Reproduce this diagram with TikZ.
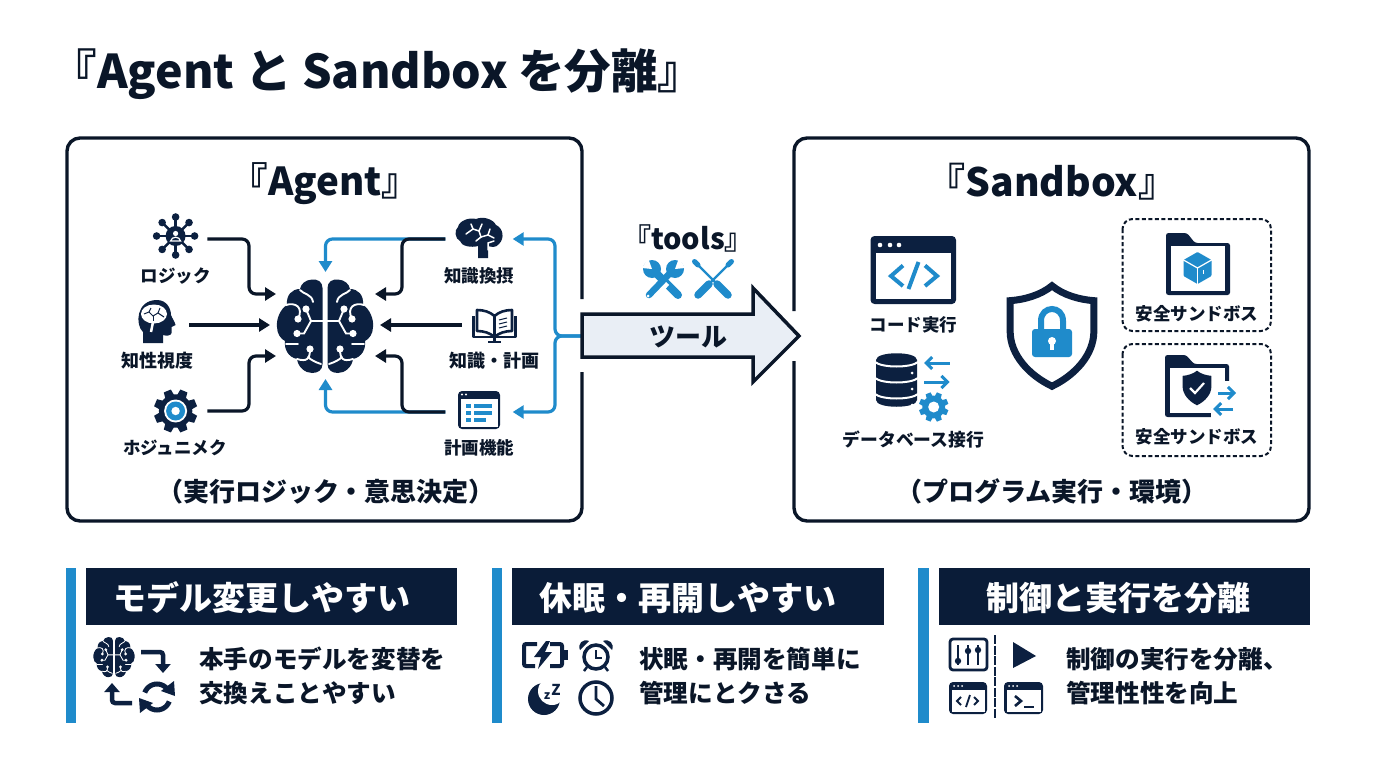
\documentclass[tikz,border=0pt]{standalone}
\usepackage{fontspec}
\setmainfont{Noto Sans CJK JP}
\usetikzlibrary{arrows.meta,calc}
\definecolor{ink}{HTML}{0A1628}
\definecolor{navy}{HTML}{0C2040}
\definecolor{hdr}{HTML}{0A1C38}
\definecolor{azure}{HTML}{1F8BCB}
\definecolor{pale}{HTML}{E9EEF5}
\tikzset{
 txt/.style={font=\bfseries\fontsize{#1}{#1}\selectfont,text=ink,inner sep=0pt,text height=#1*0.90pt,text depth=#1*0.10pt},
 whtxt/.style={txt=#1,text=white},
 port/.style 2 args={inner sep=0pt,minimum width=#1pt,minimum height=#2pt},
 dkc/.style={draw=ink,line width=3.2pt,rounded corners=7pt,-{Triangle[length=11pt,width=13pt]}},
 blc/.style={draw=azure,line width=3.2pt,rounded corners=7pt,-{Triangle[length=11pt,width=13pt]}},
 frame/.style={draw=ink,line width=3.4pt,rounded corners=13pt},
 dashbox/.style={draw=ink,line width=2pt,rounded corners=10pt,dash pattern=on 4pt off 2.5pt},
 wline/.style={draw=white,line cap=round},
 barb/.style={draw=azure,line width=3pt,-{Straight Barb[length=6pt,width=12pt]}},
 turn/.style={draw=navy,line width=4.5pt,rounded corners=3pt,-{Triangle[length=9pt,width=15pt]}},
}
% one half of the brain
\newcommand\hemi[1]{%
 \fill[navy] (2.5,-38) .. controls (2.5,-44) and (7,-47) .. (13,-46.5)
   .. controls (20,-46) and (24,-42) .. (25,-37)
   .. controls (33,-37) and (39,-31) .. (38,-21)
   .. controls (45,-17) and (49,-6) .. (48,1)
   .. controls (48,8) and (44,13) .. (40,15)
   .. controls (41,23) and (37,31) .. (28,33)
   .. controls (27,41) and (20,47) .. (13,47)
   .. controls (7,47) and (2.5,44) .. (2.5,38) -- cycle;
 \begin{scope}[line width=#1*1.9pt]
 \draw[wline] (2,-5) -- (14,-5) -- (19,-17);
 \draw[wline] (14,-5) -- (21,7.5) -- (28,7.5);
 \draw[wline] (25,-36) .. controls (22,-32) and (13,-32) .. (12,-24);
 \draw[wline] (39,-21) .. controls (30,-24) and (21,-19) .. (27,-7);
 \draw[wline] (27,18) -- (39,18);
 \draw[wline] (15,23) .. controls (15,33) and (18,36) .. (28,33);
 \draw[wline] (4,38) .. controls (10,36) and (14,34) .. (17,31);
 \end{scope}
 \fill[white] (19,-17) circle[radius=3.6];
 \fill[white] (28,7.5) circle[radius=3.6];
 \fill[white] (27,-7) circle[radius=3.6];
 \fill[white] (15,23) circle[radius=3.6];
}
\newcommand\brainico[3]{%
 \begin{scope}[shift={(#1,#2)},scale=#3]
 \hemi{#3}
 \begin{scope}[xscale=-1]\hemi{#3}\end{scope}
 \end{scope}}
\newcommand\gearico[5]{%
 \begin{scope}[shift={(#1,#2)}]
 \fill[#5] (0,0) circle[radius=#3*0.76];
 \pgfmathsetmacro\gstepv{360/#4}
 \foreach \k in {1,...,#4}{%
  \pgfmathsetmacro\gang{(\k-0.5)*\gstepv}
  \fill[#5] ({\gang-10}:#3) -- ({\gang+10}:#3) -- ({\gang+18}:#3*0.7) -- ({\gang-18}:#3*0.7) -- cycle;}
 \end{scope}}
\newcommand\shieldpath{(0,-54) .. controls (-12,-44) and (-30,-39) .. (-45,-38) -- (-45,-5) .. controls (-45,20) and (-25,42) .. (0,54) .. controls (25,42) and (45,20) .. (45,-5) -- (45,-38) .. controls (30,-39) and (12,-44) .. (0,-54) -- cycle}
% window: x1 y1 x2 y2 bar border
\newcommand\winico[6]{%
 \fill[navy,rounded corners=4pt] (#1,#2) rectangle (#3,#4);
 \fill[white] (#1+#6,#2+#5) rectangle (#3-#6,#4-#6);
}
\begin{document}
\begin{tikzpicture}[x=1pt,y=-1pt]
\useasboundingbox (0,0) rectangle (1376,768);
\fill[white] (0,0) rectangle (1376,768);

% ---------- title
\node[txt=46.5] (title) at (377.5,69.5) {『Agent と Sandbox を分離』};

% ---------- frames
\draw[frame] (582,299) -- (582,138) -- (67,138) -- (67,521) -- (582,521) -- (582,372);
\draw[frame] (794,311) -- (794,138) -- (1309,138) -- (1309,521) -- (794,521) -- (794,361);
\node[txt=38.5] (agentT) at (325,180.5) {『Agent』};
\node[txt=39] (sandT) at (1052,180.5) {『Sandbox』};
\node[txt=26] (agentS) at (326,491) {（実行ロジック・意思決定）};
\node[txt=26] (sandS) at (1052,491) {（プログラム実行・環境）};

% ---------- ports of the agent graph
\node[port={63}{50}] (logicI) at (175.6,239) {};
\node[port={66}{44}] (headI) at (156,325) {};
\node[port={63}{46}] (gearI) at (175.6,411) {};
\node[port={67}{44}] (kbI) at (479,239) {};
\node[port={65}{40}] (bookI) at (494.5,325) {};
\node[port={67}{40}] (planI) at (479,412) {};
\node[port={94}{94}] (brainI) at (325,326) {};
\coordinate (inLT) at (276,294);
\coordinate (inLM) at (270,325);
\coordinate (inLB) at (276,356);
\coordinate (inRT) at (375,294);
\coordinate (inRM) at (380,325);
\coordinate (inRB) at (375,356);
\coordinate (inTop) at (325.5,272);
\coordinate (inBot) at (325.5,379);
\coordinate (arrowTail) at (582,336);

% ---------- connectors
\draw[blc] (kbI.west) -- (325.5,239) -- (inTop);
\draw[blc] (planI.west) -- (325.5,412) -- (inBot);
\draw[dkc] (logicI.east) -- (249,239) -- (249,294) -- (inLT);
\draw[dkc] (headI.east) -- (inLM);
\draw[dkc] (gearI.east) -- (249,411) -- (249,356) -- (inLB);
\draw[dkc] (kbI.west) -- (402,239) -- (402,294) -- (inRT);
\draw[dkc] (bookI.west) -- (inRM);
\draw[dkc] (planI.west) -- (402,412) -- (402,356) -- (inRB);
\draw[blc] (arrowTail) -- (555,336) -- (555,239) -- (kbI.east);
\draw[blc] (arrowTail) -- (555,336) -- (555,412) -- (planI.east);

% ---------- central brain
\brainico{325}{326}{1}

% ---------- logic network icon
\begin{scope}[shift={(175.6,236)}]
 \foreach \a in {0,45,...,315}{\draw[navy,line width=2.4pt] (0,0) -- (\a:19);
  \fill[navy] (\a:19) circle[radius=3.8];}
 \fill[navy] (0,0) circle[radius=10];
 \fill[white] (0,-2.5) circle[radius=2.6];
 \draw[white,line width=1.2pt] (-5,5) .. controls (-4,0) and (4,0) .. (5,5) -- cycle;
\end{scope}
\node[txt=17.5] (lLogic) at (175.6,275) {ロジック};

% ---------- head icon
\begin{scope}[shift={(156,322)}]
 \fill[navy] (-13,21) -- (-13,10) .. controls (-21,3) and (-20,-22) .. (1,-22)
   .. controls (11,-22) and (15,-13) .. (15,-7) .. controls (16,-4) and (19,0) .. (19.5,3)
   -- (15.5,5) -- (15.5,11) .. controls (15,14) and (10,14) .. (7,13) -- (7,21) -- cycle;
 \fill[white] (-2,-8) ellipse[x radius=13,y radius=9.5];
 \draw[white,line width=2.5pt] (-3,0) -- (-5,10);
 \draw[navy,line width=1pt] (-12,-8) -- (-7,-10) -- (-3,-6) -- (2,-9) -- (8,-5);
 \draw[navy,line width=1pt] (-7,-10) -- (-5,-14);
 \draw[navy,line width=1pt] (2,-9) -- (4,-14);
 \draw[navy,line width=1pt] (-3,-6) -- (-3,-1);
\end{scope}
\node[txt=18] (lHead) at (157,360) {知性視度};

% ---------- gear icon
\gearico{175.6}{411}{22}{8}{navy}
\fill[white] (175.6,411) circle[radius=11.5];
\fill[azure] (175.6,411) circle[radius=9.5];
\fill[white] (175.6,411) circle[radius=4.2];
\node[txt=17.5] (lGear) at (175,447) {ホジュニメク};

% ---------- knowledge brain (side view)
\begin{scope}[shift={(479,238)}]
 \fill[navy] (-1,20) -- (-1,8) .. controls (-8,10) and (-18,8) .. (-19,3)
  .. controls (-24,1) and (-25,-8) .. (-21,-11) .. controls (-20,-17) and (-10,-21) .. (-3,-19)
  .. controls (4,-22) and (14,-19) .. (17,-13) .. controls (24,-10) and (26,0) .. (20,6)
  .. controls (17,10) and (12,9) .. (9,8) -- (9,20) -- cycle;
 \begin{scope}[line width=1.5pt]
 \draw[wline] (-13,-4) -- (-6,-9) -- (0,-7) -- (3,-14);
 \draw[wline] (0,-7) -- (2,-1) -- (-3,3);
 \draw[wline] (2,-1) -- (9,-3) -- (11,-9);
 \draw[wline] (9,-3) -- (15,0);
 \draw[wline] (9,12) -- (9,5) -- (15,3);
 \draw[wline] (-6,-9) -- (-8,-14);
 \end{scope}
\end{scope}
\node[txt=17.5] (lKb) at (479,275) {知識換摂};

% ---------- book icon
\begin{scope}[line width=2.6pt,line join=round]
 \draw[navy] (477,310) -- (477,331) .. controls (484,331) and (490,333) .. (494.5,337)
   .. controls (499,333) and (505,331) .. (512,331) -- (512,310)
   .. controls (505,310) and (499,312) .. (494.5,316) .. controls (490,312) and (484,310) .. (477,310) -- cycle;
 \draw[navy] (494.5,316) -- (494.5,337);
 \draw[navy] (473.5,316) -- (473.5,337) -- (515.5,337) -- (515.5,316);
 \draw[navy] (488,342) -- (501,342);
 \draw[navy] (494.5,337) -- (494.5,342);
 \draw[navy,line width=1pt] (499,320) -- (507,318);
 \draw[navy,line width=1pt] (499,324) -- (507,322);
 \draw[navy,line width=1pt] (499,328) -- (507,326);
\end{scope}
\node[txt=18] (lBook) at (494.5,360) {知識・計画};

% ---------- plan window icon
\winico{458}{391}{500}{429}{8}{2.5}
\fill[white] (462,394.5) circle[radius=1.2];
\fill[white] (466,394.5) circle[radius=1.2];
\fill[azure] (466,404) rectangle (471,408);
\fill[azure] (466,411) rectangle (471,415);
\fill[azure] (466,418) rectangle (471,422);
\fill[azure] (474,404) rectangle (492,408);
\fill[azure] (474,411) rectangle (492,415);
\fill[azure] (474,418) rectangle (486,422);
\node[txt=17.5] (lPlan) at (479,447) {計画機能};

% ---------- tools
\node[txt=29] (toolsT) at (688,238) {『tools』};
\begin{scope}
 \draw[azure,line width=8pt,line cap=round] (655,272) -- (678,295);
 \fill[azure] (652,269) circle[radius=9];
 \fill[white] (652,269) -- (642,268) -- (648,258) -- cycle;
 \draw[white,line width=8.5pt] (666,282) -- (656,293);
 \draw[azure,line width=6.5pt,line cap=round] (672,271) -- (649,295);
 \fill[azure] (675,269) circle[radius=9];
 \fill[white] (675,269) -- (685,268) -- (679,258) -- cycle;
 \fill[white] (648,296) circle[radius=1.5];
 \draw[azure,line width=2.4pt] (730,263) -- (711,282);
 \draw[azure,line width=5pt,line cap=round] (731.5,261.5) -- (728,265);
 \draw[azure,line width=7.5pt,line cap=round] (709,284) -- (698,295);
 \draw[azure,line width=2.4pt] (696,263) -- (715,282);
 \draw[azure,line width=5pt,line cap=round] (694.5,261.5) -- (698,265);
 \draw[azure,line width=7.5pt,line cap=round] (717,284) -- (728,295);
\end{scope}

% ---------- big arrow
\fill[pale,draw=ink,line width=3.5pt,line join=miter] (582,314) -- (753,314) -- (753,288) -- (799,336) -- (753,382) -- (753,357) -- (582,357) -- cycle;
\node[txt=26] (toolArrow) at (688,336) {ツール};

% ---------- code window
\winico{870.5}{236}{956}{304}{17}{5}
\foreach \x in {880,890,899}{\fill[white] (\x,245) circle[radius=2.3];}
\draw[azure,line width=4pt] (903,265.5) -- (891,276) -- (903,286);
\draw[azure,line width=4pt] (918.5,262) -- (908.5,289);
\draw[azure,line width=4pt] (925,265.5) -- (937,276) -- (925,286);
\node[txt=17.5] (lCode) at (913.4,324) {コード実行};

% ---------- database
\fill[navy] (876,360) .. controls (876,351) and (917,351) .. (917,360) -- (917,400) .. controls (917,409) and (876,409) .. (876,400) -- cycle;
\foreach \y in {362,378,394}{\draw[white,line width=2pt] (875,\y) .. controls (882,\y+6) and (911,\y+6) .. (918,\y);
 \fill[white] (912,\y+11) circle[radius=1.5];}
\draw[barb] (949.5,363) -- (924,363);
\draw[barb] (924,382) -- (949.5,382);
\fill[white] (933.7,407) circle[radius=17];
\gearico{933.7}{407}{15}{8}{azure}
\fill[white] (933.7,407) circle[radius=5.5];
\node[txt=17.8] (lDb) at (913.4,439) {データベース接行};

% ---------- shield with lock
\begin{scope}[shift={(1052,336)},scale=0.93]
 \draw[navy,line width=7pt,line join=miter] \shieldpath;
\end{scope}
\draw[azure,line width=6pt] (1041,332) -- (1041,321) .. controls (1041,305) and (1063,305) .. (1063,321) -- (1063,332);
\fill[azure,rounded corners=3pt] (1032,329) rectangle (1072,357);
\fill[white] (1052,341) circle[radius=4];
\fill[white] (1050.3,342) rectangle (1053.7,350);

% ---------- dashed boxes
\draw[dashbox] (1122.5,219) rectangle (1271,331);
\draw[dashbox] (1122.5,344) rectangle (1271,456);
\fill[navy,rounded corners=2.5pt] (1166,233) -- (1187,233) -- (1195,243) -- (1230,243) -- (1230,295) -- (1166,295) -- cycle;
\fill[white] (1170.5,246) rectangle (1225,290.5);
\begin{scope}[shift={(1197.5,268)}]
 \fill[azure,rounded corners=1pt] (0,-16) -- (14,-8) -- (14,8) -- (0,16) -- (-14,8) -- (-14,-8) -- cycle;
 \draw[white,line width=1.2pt] (-14,-8) -- (0,0) -- (14,-8);
 \draw[white,line width=1.2pt] (0,0) -- (0,16);
 \draw[white,line width=1pt] (6,2) -- (6,6);
\end{scope}
\node[txt=17.5] (lSafe1) at (1197,313) {安全サンドボス};
\fill[navy,rounded corners=2.5pt] (1165,355) -- (1186,355) -- (1194,364) -- (1229,364) -- (1229,417) -- (1165,417) -- cycle;
\fill[white] (1169.5,368) rectangle (1224.5,412.5);
\fill[white] (1211,381) rectangle (1240,420);
\begin{scope}[shift={(1197,388)},scale=0.32]
 \fill[navy] \shieldpath;
\end{scope}
\draw[white,line width=2.2pt] (1190,388) -- (1195,393) -- (1204,383);
\draw[barb] (1218,393) -- (1236,393);
\draw[barb] (1233,409) -- (1213,409);
\node[txt=17.5] (lSafe2) at (1197,436) {安全サンドボス};

% ---------- panel 1
\fill[azure] (66,568) rectangle (76,723);
\fill[hdr] (86,568) rectangle (457,625);
\node[whtxt=33] (h1) at (262,597) {モデル変更しやすい};
\brainico{114}{657}{0.43}
\draw[turn] (141,652) -- (163,652) -- (163,673);
\draw[turn] (132,703) -- (112,703) -- (112,683);
\begin{scope}[shift={(157,697)}]
 \draw[navy,line width=5pt] plot[domain=-160:-30,samples=14,smooth] ({13*cos(\x)},{13*sin(\x)});
 \draw[navy,line width=5pt] plot[domain=20:150,samples=14,smooth] ({13*cos(\x)},{13*sin(\x)});
 \fill[navy] (17,-16) -- (18,-1) -- (4,-6) -- cycle;
 \fill[navy] (-17,16) -- (-18,1) -- (-4,6) -- cycle;
\end{scope}
\node[txt=24.6,anchor=west] (b1a) at (199,659) {本手のモデルを変替を};
\node[txt=24.6,anchor=west] (b1b) at (199,693) {交換えことやすい};

% ---------- panel 2
\fill[azure] (492,568) rectangle (502,723);
\fill[hdr] (512,568) rectangle (884,625);
\node[whtxt=33] (h2) at (688,597) {休眠・再開しやすい};
\draw[navy,line width=4pt,rounded corners=2pt] (537,644) -- (524,644) -- (524,666) -- (535,666);
\draw[navy,line width=4pt,rounded corners=2pt] (550,644) -- (562,644) -- (562,666) -- (550,666);
\fill[navy] (564,650) rectangle (567.5,660);
\fill[navy] (546,641) -- (534,657) -- (541,657) -- (538,669) -- (552,652) -- (545,652) -- (550,641) -- cycle;
\draw[navy,line width=3.5pt] (596,657) circle[radius=12];
\draw[navy,line width=2.4pt] (596,650) -- (596,658) -- (602,658);
\fill[navy] (580,650) .. controls (577,644) and (583,638) .. (589,641) -- cycle;
\fill[navy] (612,650) .. controls (615,644) and (609,638) .. (603,641) -- cycle;
\draw[navy,line width=2.5pt] (587,667) -- (584,671);
\draw[navy,line width=2.5pt] (605,667) -- (608,671);
\fill[navy] (544,699) circle[radius=16];
\fill[white] (552,691) circle[radius=14];
\node[txt=12,text=navy] (zz1) at (547,695) {z};
\node[txt=15,text=navy] (zz2) at (556,689) {Z};
\draw[navy,line width=3.5pt] (596,698) circle[radius=16];
\draw[navy,line width=2.8pt] (596,686) -- (596,699) -- (604,706);
\node[txt=24.6,anchor=west] (b2a) at (639,659) {状眠・再開を簡単に};
\node[txt=24.6,anchor=west] (b2b) at (639,693) {管理にとクさる};

% ---------- panel 3
\fill[azure] (918,568) rectangle (929,723);
\fill[hdr] (939,568) rectangle (1310,625);
\node[whtxt=33] (h3) at (1118,597) {制御と実行を分離};
\draw[navy,line width=2.8pt,rounded corners=3pt] (950,639) rectangle (987,670);
\foreach \x/\y in {958/661,968/651,978/650}{
 \draw[navy,line width=2pt] (\x,645) -- (\x,665);
 \fill[navy] (\x,\y) circle[radius=3.2];}
\fill[navy] (1013,642) -- (1036,656) -- (1013,668) -- cycle;
\draw[navy,line width=1.5pt,dash pattern=on 9pt off 1.5pt] (995,635) -- (995,718);
\winico{949}{682}{987}{714}{8}{2.5}
\foreach \x in {954,958,962}{\fill[white] (\x,686) circle[radius=1];}
\draw[navy,line width=1.8pt] (961,697) -- (957,701) -- (961,705);
\draw[navy,line width=1.8pt] (970,695) -- (966,707);
\draw[navy,line width=1.8pt] (974,697) -- (978,701) -- (974,705);
\winico{1004}{682}{1043}{714}{8}{2.5}
\foreach \x in {1009,1013,1017}{\fill[white] (\x,686) circle[radius=1];}
\draw[navy,line width=2.6pt] (1015,696) -- (1021,701) -- (1015,706);
\draw[navy,line width=2.6pt] (1024,707) -- (1034,707);
\node[txt=24.6,anchor=west] (b3a) at (1066,659) {制御の実行を分離、};
\node[txt=24.6,anchor=west] (b3b) at (1066,693) {管理性性を向上};
\end{tikzpicture}
\end{document}
